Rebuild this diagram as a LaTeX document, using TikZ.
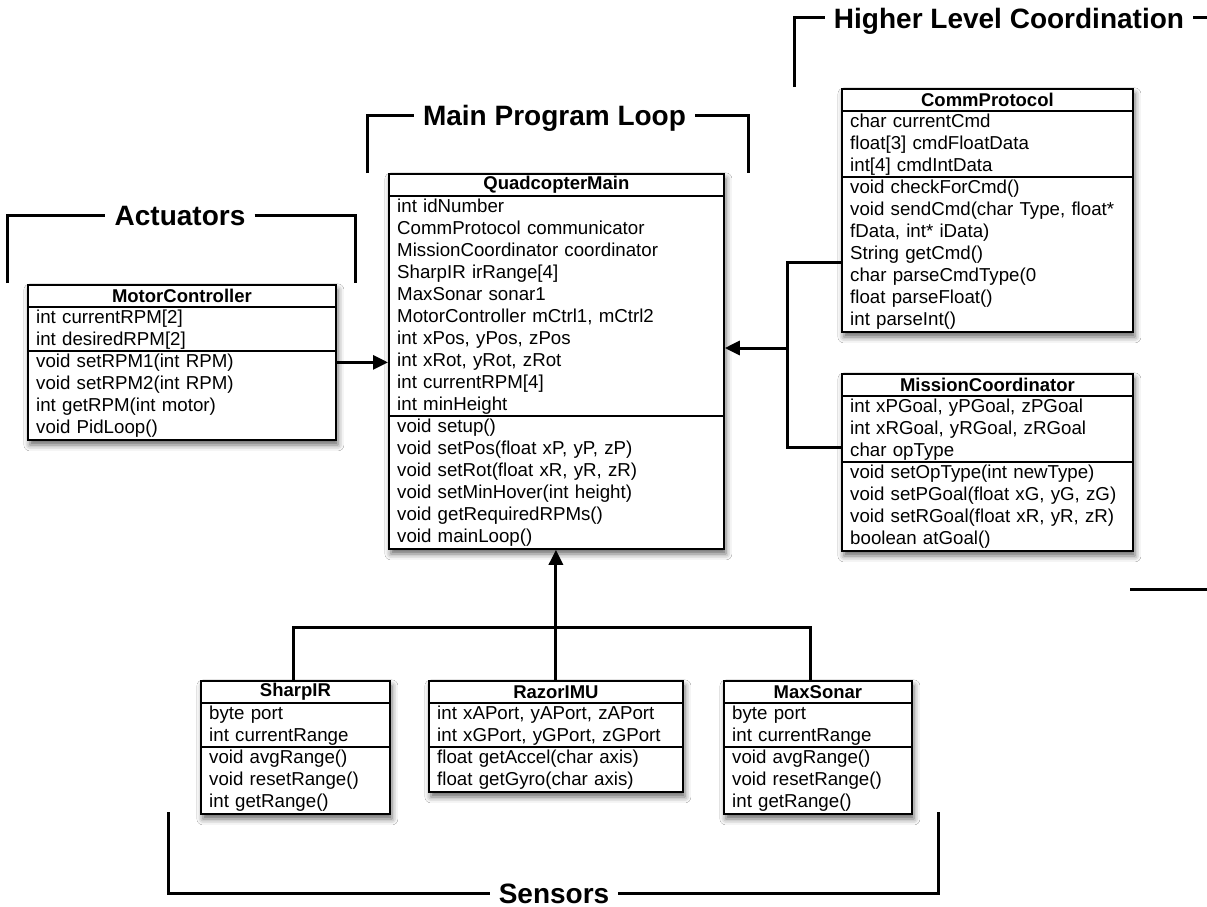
\documentclass[tikz,border=0pt]{standalone}
\usepackage{fontspec}
\setmainfont{Liberation Sans}
\usetikzlibrary{arrows.meta,shadows.blur,calc}
\tikzset{
  clsbox/.style={draw=black, line width=1.8pt, fill=white, inner sep=0pt,
    blur shadow={shadow xshift=2pt, shadow yshift=-5pt, shadow blur radius=6pt, shadow opacity=60}},
  clssep/.style={line width=1.3pt},
  clstitle/.style={inner sep=0pt, font=\fontsize{18.5}{22}\selectfont\bfseries, align=center},
  clstext/.style={inner xsep=9pt, inner ysep=0pt, font=\fontsize{18.7}{22}\selectfont, align=left,
    execute at begin node=\strut, execute at end node=\strut},
  conn/.style={line width=3pt},
  arr/.style={conn, -{Triangle[length=15pt,width=14pt]}},
  grp/.style={font=\fontsize{28}{30}\selectfont\bfseries, inner xsep=9pt, inner ysep=0pt,
    text height=21pt, text depth=0pt},
  brk/.style={line width=3pt},
}
% #1 name, #2 x, #3 y(top), #4 width, #5 title, #6 n attrs, #7 attrs, #8 n methods, #9 methods
\newcommand{\umlclass}[9]{%
  \pgfmathsetmacro\clsw{#4-18}%
  \pgfmathsetmacro\clsh{23+22*(#6+#8)}%
  \pgfmathsetmacro\clsa{22*#6}%
  \pgfmathsetmacro\clsm{22*#8}%
  \pgfmathsetmacro\clsy{23+22*#6}%
  \node[clsbox, minimum width=#4pt, minimum height=\clsh pt, anchor=north west] (#1) at (#2,#3) {};
  \node[clstitle] (#1-t) at ([yshift=-12pt]#1.north) {#5};
  \coordinate (#1-s1) at ([yshift=-23pt]#1.north west);
  \coordinate (#1-s2) at ([yshift=-\clsy pt]#1.north west);
  \draw[clssep] (#1-s1) -- (#1-s1 -| #1.east);
  \draw[clssep] (#1-s2) -- (#1-s2 -| #1.east);
  \node[clstext, anchor=north west, minimum height=\clsa pt, text width=\clsw pt] (#1-a) at ([yshift=-1pt]#1-s1) {#7};
  \node[clstext, anchor=north west, minimum height=\clsm pt, text width=\clsw pt] (#1-m) at ([yshift=-1pt]#1-s2) {#9};
}
\begin{document}
\begin{tikzpicture}[x=1pt,y=-1pt]
\useasboundingbox (0,0) rectangle (1207,907);
\clip (0,0) rectangle (1207,907);
\fill[white] (0,0) rectangle (1207,907);

% classes
\umlclass{mc}{27}{284}{308}{MotorController}{2}{int currentRPM[2]\\int desiredRPM[2]}{4}{void setRPM1(int RPM)\\void setRPM2(int RPM)\\int getRPM(int motor)\\void PidLoop()}

\umlclass{qm}{388}{173}{335}{QuadcopterMain}{10}{int idNumber\\CommProtocol communicator\\MissionCoordinator coordinator\\SharpIR irRange[4]\\MaxSonar sonar1\\MotorController mCtrl1, mCtrl2\\int xPos, yPos, zPos\\int xRot, yRot, zRot\\int currentRPM[4]\\int minHeight}{6}{void setup()\\void setPos(float xP, yP, zP)\\void setRot(float xR, yR, zR)\\void setMinHover(int height)\\void getRequiredRPMs()\\void mainLoop()}

\umlclass{cp}{841}{88}{291}{CommProtocol}{3}{char currentCmd\\float[3] cmdFloatData\\int[4] cmdIntData}{7}{void checkForCmd()\\void sendCmd(char Type, float*\\fData, int* iData)\\String getCmd()\\char parseCmdType(0\\float parseFloat()\\int parseInt()}

\umlclass{mco}{841}{373}{291}{MissionCoordinator}{3}{int xPGoal, yPGoal, zPGoal\\int xRGoal, yRGoal, zRGoal\\char opType}{4}{void setOpType(int newType)\\void setPGoal(float xG, yG, zG)\\void setRGoal(float xR, yR, zR)\\boolean atGoal()}

\umlclass{si}{200}{680}{189}{SharpIR}{2}{byte port\\int currentRange}{3}{void avgRange()\\void resetRange()\\int getRange()}

\umlclass{rz}{428}{680}{254}{RazorIMU}{2}{int xAPort, yAPort, zAPort\\int xGPort, yGPort, zGPort}{2}{float getAccel(char axis)\\float getGyro(char axis)}

\umlclass{ms}{723}{680}{188}{MaxSonar}{2}{byte port\\int currentRange}{3}{void avgRange()\\void resetRange()\\int getRange()}

% connectors
\draw[arr] (mc.east) -- (mc.east -| qm.west);

\coordinate (jc) at (787,348);
\draw[conn] ([yshift=-52.5pt]cp.west) -| (jc) |- ([yshift=14.5pt]mco.west);
\draw[arr] (jc) -- (jc -| qm.east);

\coordinate (sb) at (293,627);
\coordinate (mb) at (810,627);
\draw[conn] (sb |- si.north) -- (sb) -- (mb) -- (mb |- ms.north);
\draw[arr] (rz.north) -- (rz.north |- qm.south);

% group brackets
\node[grp] (lact) at (180,215) {Actuators};
\coordinate (a1) at (7,283);
\coordinate (a2) at (355,283);
\draw[brk] (a1) |- (lact.west);
\draw[brk] (lact.east) -| (a2);

\node[grp] (lmain) at (554.5,115) {Main Program Loop};
\coordinate (m1) at (367,173);
\coordinate (m2) at (748,173);
\draw[brk] (m1) |- (lmain.west);
\draw[brk] (lmain.east) -| (m2);

\node[grp] (lhl) at (1009,18) {Higher Level Coordination};
\coordinate (h1) at (794,87);
\coordinate (h2) at (1212,18);
\coordinate (h3) at (1130,589);
\coordinate (h4) at (1212,589);
\draw[brk] (h1) |- (lhl.west);
\draw[brk] (lhl.east) -- (h2);
\draw[brk] (h3) -- (h4);

\node[grp] (lsen) at (554,893) {Sensors};
\coordinate (s1) at (168,812);
\coordinate (s2) at (938,812);
\draw[brk] (s1) |- (lsen.west);
\draw[brk] (lsen.east) -| (s2);
\end{tikzpicture}
\end{document}
